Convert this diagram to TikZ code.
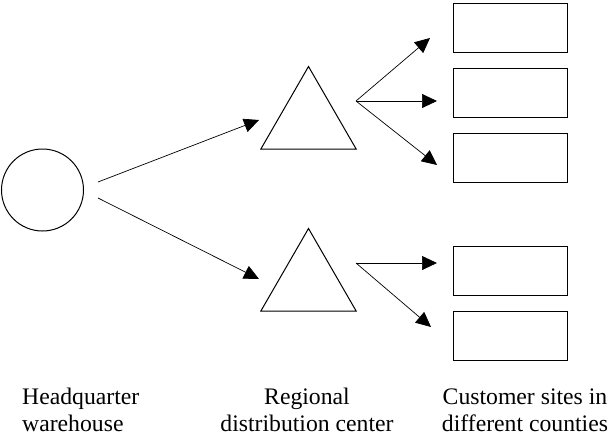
\documentclass[tikz,border=0pt]{standalone}
\usepackage{fontspec}
\setmainfont{Liberation Serif}
\usetikzlibrary{shapes.geometric, arrows.meta}

\begin{document}
\begin{tikzpicture}[x=1pt,y=-1pt,
  hub/.style={draw, line width=1pt, circle, minimum size=82pt, inner sep=0pt},
  depot/.style={draw, line width=1pt, regular polygon, regular polygon sides=3, minimum size=110pt, inner sep=0pt},
  site/.style={draw, line width=1pt, rectangle, minimum width=114pt, minimum height=49pt, inner sep=0pt},
  ship/.style={line width=0.7pt, -{Triangle[length=15pt,width=14pt]}},
  caption/.style={font=\fontsize{23.7}{27}\selectfont, inner sep=0pt}]

\useasboundingbox (0,0) rectangle (612,436);

% warehouse, regional centres and customer sites
\node[hub] (hq) at (42.5,190) {};
\node[depot] (rdc1) at (308.5,121.5) {};
\node[depot] (rdc2) at (308.5,283.5) {};
\foreach \y [count=\i] in {28.5,93,158,270.5,335.5}
  \node[site] (cs\i) at (510,\y) {};

% arrow ends
\coordinate (hq-a) at (98,182);
\coordinate (hq-b) at (98,198);
\coordinate (rdc1-in) at (259,120);
\coordinate (rdc2-in) at (259,279);
\coordinate (rdc1-out) at (356,101);
\coordinate (rdc2-out) at (356,263);
\coordinate (cs1-in) at (430,38);
\coordinate (cs2-in) at (437,101);
\coordinate (cs3-in) at (437,165);
\coordinate (cs4-in) at (437,263);
\coordinate (cs5-in) at (431,327);

\draw[ship] (hq-a) -- (rdc1-in);
\draw[ship] (hq-b) -- (rdc2-in);
\foreach \i in {1,2,3}
  \draw[ship] (rdc1-out) -- (cs\i-in);
\foreach \i in {4,5}
  \draw[ship] (rdc2-out) -- (cs\i-in);

% captions (base = last line)
\node[caption, align=left, anchor=base west] (hq-label) at (22,431) {Headquarter\\warehouse};
\node[caption, align=center, anchor=base] (rdc-label) at (307,431) {Regional\\distribution center};
\node[caption, align=center, anchor=base] (cs-label) at (525,431) {Customer sites in\\different counties};

\end{tikzpicture}
\end{document}
